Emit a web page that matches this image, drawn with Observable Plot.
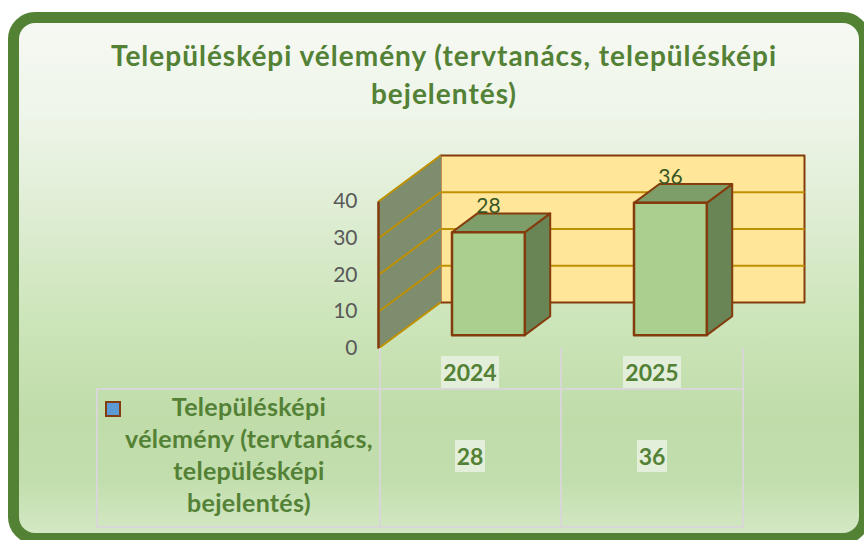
<!DOCTYPE html>
<html>
<head>
<meta charset="utf-8">
<script src="https://cdn.jsdelivr.net/npm/d3@7"></script>
<script src="https://cdn.jsdelivr.net/npm/@observablehq/plot@0.6"></script>
<style>
  html, body { margin: 0; padding: 0; background: #ffffff; }
  #page { position: relative; width: 864px; height: 540px; overflow: hidden; font-family: Lato, "Open Sans", sans-serif; }
  #bg { position: absolute; left: 8px; top: 12px; width: 862px; height: 532px; box-sizing: border-box;
        border: 11px solid #548235; border-radius: 27px;
        background: linear-gradient(to bottom, #f6f9f3 0%, #eef5e9 18%, #e0eed6 35%, #cde5ba 58%, #c0dca9 78%, #c3deae 90%, #d3e8c4 100%); }
  #chart { position: absolute; left: 0; top: 0; }
  #title { position: absolute; left: 0; top: 36px; width: 888px; text-align: center; color: #538135;
           font-weight: 700; font-size: 28px; line-height: 38px; letter-spacing: 1px; white-space: nowrap; }
  .hline, .vline { position: absolute; background: #d7d7d7; }
  .cell { position: absolute; width: 200px; text-align: center; }
  .cell span { display: inline-block; background: #e3efda; color: #538135; font-weight: 700; font-size: 23px;
               line-height: 32px; padding: 0 2px; }
  #rowlabel { position: absolute; left: 99px; top: 390px; width: 300px; text-align: center; color: #538135;
              font-weight: 700; font-size: 25px; line-height: 32px; letter-spacing: 0.3px; white-space: nowrap; }
  #key { position: absolute; left: 105px; top: 401px; width: 16px; height: 16px; box-sizing: border-box;
         background: #5b9bd5; border: 2px solid #843c0c; }
</style>
</head>
<body>
<div id="page">
  <div id="bg"></div>
  <div id="chart"></div>
  <div id="title"></div>
  <div id="table"></div>
</div>
<script>
// ---- data ----
const titleLines = ["Településképi vélemény (tervtanács, településképi", "bejelentés)"];
const categories = ["2024", "2025"];
const values = [28, 36];
const yTicks = [0, 10, 20, 30, 40];
const seriesLines = ["Településképi", "vélemény (tervtanács,", "településképi", "bejelentés)"];

// ---- 3D geometry helpers (in data units) ----
const yMax = yTicks[yTicks.length - 1];
const DX = 62 / 182;      // depth shift in category units
const DV = 46 / (147 / 40); // depth shift in value units
const d0 = 0.29, d1 = 0.70; // bar depth extent
const bx0 = 0.305, bx1 = 0.705; // bar extent within a category slot
const proj = (xu, v, d) => ({x: xu + d * DX, y: v + d * DV});

function face(id, pts) { return pts.map(([xu, v, d]) => ({id, ...proj(xu, v, d)})); }

const fronts = [], tops = [], sides = [];
values.forEach((v, i) => {
  const a = i + bx0, b = i + bx1;
  fronts.push(...face("f" + i, [[a, 0, d0], [b, 0, d0], [b, v, d0], [a, v, d0]]));
  tops.push(...face("t" + i, [[a, v, d0], [b, v, d0], [b, v, d1], [a, v, d1]]));
  sides.push(...face("s" + i, [[b, 0, d0], [b, 0, d1], [b, v, d1], [b, v, d0]]));
});
const n = categories.length;
const backWall = face("back", [[0, 0, 1], [n, 0, 1], [n, yMax, 1], [0, yMax, 1]]);
const sideWall = face("side", [[0, 0, 0], [0, 0, 1], [0, yMax, 1], [0, yMax, 0]]);
const gridBack = yTicks.slice(1, -1).map(t => ({a: proj(0, t, 1), b: proj(n, t, 1)}));
const gridSide = yTicks.map(t => ({a: proj(0, t, 0), b: proj(0, t, 1)}));
const labels = values.map((v, i) => ({...proj(i + (bx0 + bx1) / 2 + d0 * DX, v + d1 * DV, 0), text: String(v)}));

const brown = "#843c0c", gold = "#bf9000";

const plot = Plot.plot({
  width: 864, height: 360,
  marginLeft: 378, marginRight: 122, marginTop: 201, marginBottom: 12,
  style: {background: "none", fontFamily: "Lato, sans-serif", fontSize: "21px", color: "#595959", overflow: "visible"},
  x: {domain: [0, n], axis: null},
  y: {domain: [0, yMax], ticks: yTicks, tickSize: 0, tickPadding: 21, label: null, tickFormat: d => String(d)},
  marks: [
    Plot.line(backWall, {x: "x", y: "y", z: "id", fill: "#ffe699", stroke: brown, strokeWidth: 2, curve: "linear-closed"}),
    Plot.link(gridBack, {x1: d => d.a.x, y1: d => d.a.y, x2: d => d.b.x, y2: d => d.b.y, stroke: gold, strokeWidth: 2}),
    Plot.line(sideWall, {x: "x", y: "y", z: "id", fill: "#7e8d6e", stroke: "#7e8d6e", strokeWidth: 1, curve: "linear-closed"}),
    Plot.link(gridSide, {x1: d => d.a.x, y1: d => d.a.y, x2: d => d.b.x, y2: d => d.b.y, stroke: gold, strokeWidth: 2}),
    Plot.link([0], {x1: () => 0, y1: () => 0, x2: () => 0, y2: () => yMax, stroke: brown, strokeWidth: 2.5}),
    Plot.line(sides, {x: "x", y: "y", z: "id", fill: "#698455", stroke: brown, strokeWidth: 2, strokeLinejoin: "round", curve: "linear-closed"}),
    Plot.line(tops, {x: "x", y: "y", z: "id", fill: "#7e9e69", stroke: brown, strokeWidth: 2, strokeLinejoin: "round", curve: "linear-closed"}),
    Plot.line(fronts, {x: "x", y: "y", z: "id", fill: "#a9d08e", stroke: brown, strokeWidth: 2.5, strokeLinejoin: "round", curve: "linear-closed"}),
    Plot.text(labels, {x: "x", y: "y", text: "text", textAnchor: "middle", lineAnchor: "bottom", fill: "#375623", fontSize: 21})
  ]
});
document.getElementById("chart").appendChild(plot);

// ---- title ----
document.getElementById("title").innerHTML = titleLines.map(s => `<div>${s}</div>`).join("");

// ---- data table ----
const x = plot.scale("x");
const table = document.getElementById("table");
const px = u => x.apply(u);
const R = Math.round(px(n));
const add = (cls, css, html = "") => { const e = document.createElement("div"); e.className = cls; e.style.cssText = css; e.innerHTML = html; table.appendChild(e); return e; };
for (let i = 0; i <= n; i++) add("vline", `left:${Math.round(px(i)) + (i === 0 ? 1 : 0)}px;top:348px;width:2px;height:180px;`);
add("vline", `left:96px;top:388px;width:2px;height:140px;`);
add("hline", `left:96px;top:388px;width:${R - 96 + 2}px;height:2px;`);
add("hline", `left:96px;top:526px;width:${R - 96 + 2}px;height:2px;`);
categories.forEach((c, i) => {
  const cx = px(i + 0.5) + 1;
  add("cell", `left:${cx - 100}px;top:356px;`, `<span>${c}</span>`);
  add("cell", `left:${cx - 100}px;top:440px;`, `<span>${values[i]}</span>`);
});
const k = document.createElement("div"); k.id = "key"; table.appendChild(k);
const rl = document.createElement("div"); rl.id = "rowlabel"; rl.innerHTML = seriesLines.map(s => `<div>${s}</div>`).join(""); table.appendChild(rl);
</script>
</body>
</html>
